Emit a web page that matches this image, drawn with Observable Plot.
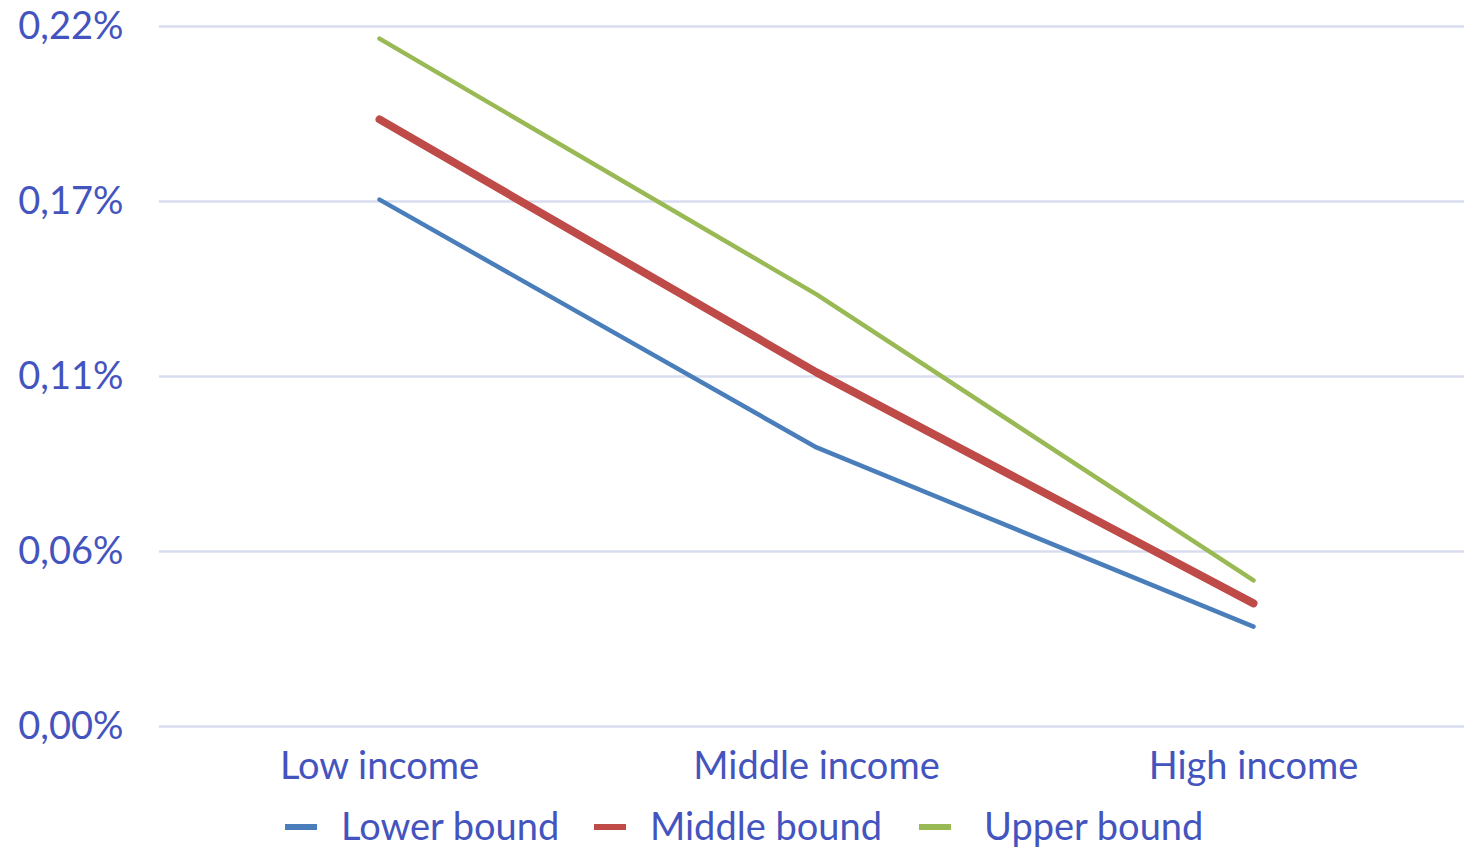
<!DOCTYPE html>
<html>
<head>
<meta charset="utf-8">
<script src="https://cdn.jsdelivr.net/npm/d3@7"></script>
<script src="https://cdn.jsdelivr.net/npm/@observablehq/plot@0.6"></script>
<style>
  html, body { margin: 0; padding: 0; background: #fff; }
  #chart { width: 1464px; font-family: Lato, "Open Sans", sans-serif; color: #4454be; }
  .legend { position: relative; height: 58px; font-size: 38px; line-height: 1; }
  .legend .swatch { position: absolute; top: 34px; width: 32px; height: 6px; }
  .legend .label { position: absolute; top: 16px; white-space: nowrap; }
</style>
</head>
<body>
<div id="chart"></div>
<script>
// Income groups along the x axis
const groups = ["Low income", "Middle income", "High income"];

// Share estimates (%) per income group, one array per bound
const lowerBound  = [0.1656, 0.0877, 0.0314];
const middleBound = [0.1908, 0.1113, 0.0387];
const upperBound  = [0.2162, 0.1358, 0.0459];

// Y axis tick values (0 to 0.22 % in five steps)
const yTicks = [0, 0.055, 0.11, 0.165, 0.22];

const seriesNames  = ["Lower bound", "Middle bound", "Upper bound"];
const seriesColors = ["#4a7ebb", "#be4b48", "#98b954"];
const seriesWidths = [4.5, 8, 4.5];
const seriesValues = [lowerBound, middleBound, upperBound];

const rows = seriesNames.flatMap((name, i) =>
  groups.map((g, j) => ({series: name, group: g, value: seriesValues[i][j]}))
);

const textColor = "#4454be";
const fmt = v => v.toFixed(2).replace(".", ",") + "%";

const plot = Plot.plot({
  width: 1464,
  height: 790,
  marginLeft: 159,
  marginRight: 0,
  marginTop: 26,
  marginBottom: 64,
  style: {fontFamily: "Lato, 'Open Sans', sans-serif", fontSize: "38px", color: textColor, background: "#fff"},
  x: {type: "point", domain: groups, range: [378, 1253], padding: 0, label: null},
  y: {domain: [0, 0.22], label: null},
  marks: [
    Plot.ruleY(yTicks, {stroke: "#d9dcef", strokeWidth: 2.5}),
    Plot.axisY(yTicks, {tickSize: 0, tickPadding: 36, tickFormat: fmt, fill: textColor, fontSize: 38, label: null}),
    Plot.axisX({tickSize: 0, tickPadding: 26, fill: textColor, fontSize: 38, label: null}),
    ...seriesNames.map((name, i) =>
      Plot.line(rows.filter(d => d.series === name), {
        x: "group", y: "value",
        stroke: seriesColors[i], strokeWidth: seriesWidths[i],
        strokeLinecap: "round", strokeLinejoin: "round"
      })
    )
  ]
});

const root = document.getElementById("chart");
root.appendChild(plot);

// Legend row under the chart: a short colour swatch followed by the series name
const legend = document.createElement("div");
legend.className = "legend";
const swatchX = [285, 594, 919];
const labelX = [341, 650, 984];
seriesNames.forEach((name, i) => {
  const sw = document.createElement("span");
  sw.className = "swatch";
  sw.style.left = swatchX[i] + "px";
  sw.style.background = seriesColors[i];
  const label = document.createElement("span");
  label.className = "label";
  label.style.left = labelX[i] + "px";
  label.textContent = name;
  legend.appendChild(sw);
  legend.appendChild(label);
});
root.appendChild(legend);
</script>
</body>
</html>
